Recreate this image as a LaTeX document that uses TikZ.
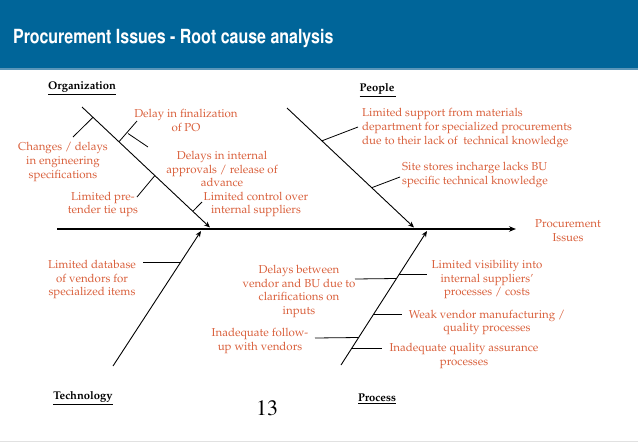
\documentclass[tikz,border=0pt]{standalone}
\usepackage[T1]{fontenc}
\usepackage{mathpazo}
\usetikzlibrary{arrows.meta}
\definecolor{titleblue}{RGB}{0,101,153}
\definecolor{titleline}{RGB}{90,150,185}
\definecolor{cause}{RGB}{217,96,60}
\definecolor{footgray}{RGB}{225,225,225}
\begin{document}
\begin{tikzpicture}[x=1pt,y=-1pt,
  lbl/.style={text=cause, font=\fontsize{11.5}{13.8}\selectfont, align=center, inner sep=0pt},
  lbll/.style={lbl, align=left, anchor=west},
  hd/.style={font=\fontsize{11.2}{13}\selectfont\bfseries, inner sep=0pt},
  bone/.style={line width=0.9pt, -{Stealth[length=6pt,width=5pt]}},
  spine/.style={line width=1.2pt, -{Stealth[length=7pt,width=5.5pt]}},
  twig/.style={line width=0.8pt}]
\useasboundingbox (0,0) rectangle (638,442);
% title bar
\fill[titleblue] (0,0) rectangle (638,68);
\fill[titleline] (0,68) rectangle (638,69.5);
\node[anchor=base west, text=white, inner sep=0pt,
  font=\fontfamily{phv}\fontsize{19.5}{22}\selectfont\bfseries] (title) at (13,43.5)
  {\scalebox{0.82}[1]{Procurement Issues - Root cause analysis}};
\fill[footgray] (0,440.5) rectangle (638,442);

% main coordinates
\coordinate (S0) at (57,229);
\coordinate (S1) at (516,229);
\coordinate (O0) at (82,107);   \coordinate (O1) at (210,227.5);
\coordinate (P0) at (287,108);  \coordinate (P1) at (414,227.5);
\coordinate (T0) at (113,366);  \coordinate (T1) at (201,231);
\coordinate (R0) at (341,365);  \coordinate (R1) at (427,231);

% spine and bones
\draw[spine] (S0) -- (S1);
\draw[bone] (O0) -- (O1);
\draw[bone] (P0) -- (P1);
\draw[bone] (T0) -- (T1);
\draw[bone] (R0) -- (R1);

% effect
\node[lbl] (effect) at (568,230.5) {Procurement\\Issues};

% headings
\node[hd] (orgH) at (82,88) {\underline{Organization}};
\node[hd] (pplH) at (378,90) {\underline{People\,}};
\node[hd] (tecH) at (83,398) {\underline{Technology}};
\node[hd] (proH) at (377,399) {\underline{Process}};
\node[inner sep=0pt, font=\fontfamily{ptm}\fontsize{22}{24}\selectfont] (pg) at (267,408) {13};

% Organization causes
\node[lbl] (o1) at (186,120.5) {Delay in finalization\\of PO};
\node[lbl] (o2) at (63,162) {Changes / delays\\in engineering\\specifications};
\node[lbl] (o3) at (222,169) {Delays in internal\\approvals / release of\\advance};
\node[lbl] (o4) at (103,204.5) {Limited pre-\\tender tie ups};
\node[lbl] (o5) at (256,204.5) {Limited control over\\internal suppliers};

\coordinate (oa1) at (93,117.3);  \coordinate (oa2) at (73,137);
\coordinate (ob1) at (119,141.7); \coordinate (ob2) at (137,121);
\coordinate (oc1) at (128,133.5); \coordinate (oc2) at (148,147);
\coordinate (od1) at (155,175.4); \coordinate (od2) at (137,197);
\coordinate (oe1) at (193,211.1); \coordinate (oe2) at (202,202);
\draw[twig] (oa1) -- (oa2);
\draw[twig] (ob1) -- (ob2);
\draw[twig] (oc1) -- (oc2);
\draw[twig] (od1) -- (od2);
\draw[twig] (oe1) -- (oe2);

% People causes
\node[lbll] (p1) at (362,128) {Limited support from materials\\department for specialized procurements\\due to their lack of \ technical knowledge};
\node[lbll] (p2) at (402,175) {Site stores incharge lacks BU\\specific technical knowledge};
\coordinate (pa1) at (322,140.8); \coordinate (pa2) at (358,127);
\coordinate (pb1) at (372,187.6); \coordinate (pb2) at (400,177);
\draw[twig] (pa1) -- (pa2);
\draw[twig] (pb1) -- (pb2);

% Technology causes
\node[lbl] (k1) at (92,279.5) {Limited database\\of vendors for\\specialized items};
\coordinate (ka1) at (143,262); \coordinate (ka2) at (180.8,262);
\draw[twig] (ka1) -- (ka2);

% Process causes
\node[lbl] (s1) at (487,279.5) {Limited visibility into\\internal suppliers'\\processes / costs};
\node[lbl] (s2) at (299,291.5) {Delays between\\vendor and BU due to\\clarifications on\\inputs};
\node[lbl] (s3) at (487,322.5) {Weak vendor manufacturing /\\quality processes};
\node[lbl] (s4) at (260,341) {Inadequate follow-\\up with vendors};
\node[lbl] (s5) at (464,356) {Inadequate quality assurance\\processes};
\coordinate (sa1) at (399.4,274);  \coordinate (sa2) at (427,274);
\coordinate (sb1) at (355,279);    \coordinate (sb2) at (396.5,278.5);
\coordinate (sc1) at (373.7,314);  \coordinate (sc2) at (402,314);
\coordinate (sd1) at (315,338);    \coordinate (sd2) at (358.7,337.5);
\coordinate (se1) at (351.9,348);  \coordinate (se2) at (382,348);
\draw[twig] (sa1) -- (sa2);
\draw[twig] (sb1) -- (sb2);
\draw[twig] (sc1) -- (sc2);
\draw[twig] (sd1) -- (sd2);
\draw[twig] (se1) -- (se2);
\end{tikzpicture}
\end{document}
